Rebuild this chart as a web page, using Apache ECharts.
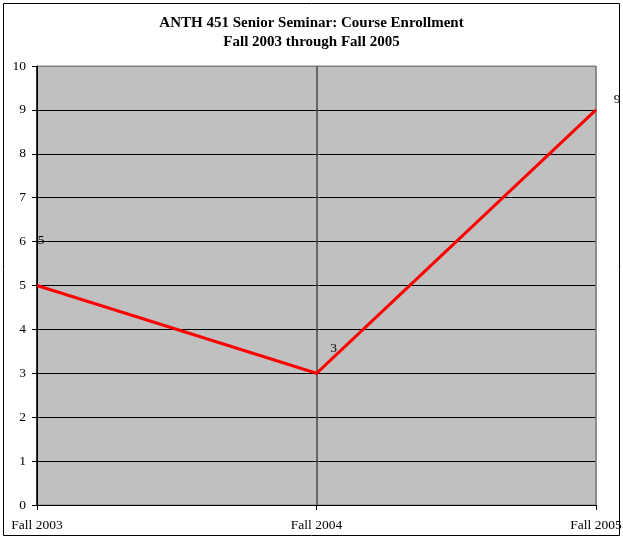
<!DOCTYPE html>
<html>
<head>
<meta charset="utf-8">
<script src="https://cdn.jsdelivr.net/npm/echarts@6/dist/echarts.min.js"></script>
<style>
  html, body { margin: 0; padding: 0; background: #ffffff; }
  #chart { width: 623px; height: 539px; }
</style>
</head>
<body>
<div id="chart"></div>
<script>
// Enrollment per fall term
const terms = ['Fall 2003', 'Fall 2004', 'Fall 2005'];
const enrollment = [5, 3, 9];
const yTicks = [0, 1, 2, 3, 4, 5, 6, 7, 8, 9, 10];

// Where each value label sits relative to its point (dx, dy in px)
const labelShift = [[4, -45], [17, -25], [21, -10]];

const serif = '"Liberation Serif", "Times New Roman", serif';

// Gridlines are black inside the plot; the outer frame edges are grey
const yGridColors = yTicks.map((t, i) => (i === yTicks.length - 1 ? '#808080' : '#000000'));
const xGridColors = terms.map((t, i) => (i === terms.length - 1 ? '#808080' : (i === 0 ? '#000000' : '#4a4a4a')));

const chart = echarts.init(document.getElementById('chart'), null, { renderer: 'canvas' });

chart.setOption({
  animation: false,
  backgroundColor: '#ffffff',
  title: {
    text: 'ANTH 451 Senior Seminar: Course Enrollment\nFall 2003 through Fall 2005',
    left: 'center',
    top: 9,
    textStyle: {
      fontFamily: serif,
      fontWeight: 'bold',
      fontSize: 15,
      lineHeight: 19,
      color: '#000000'
    }
  },
  graphic: [{
    type: 'rect',
    shape: { x: 3.5, y: 3.5, width: 616, height: 532 },
    style: { fill: 'none', stroke: '#000000', lineWidth: 1 },
    silent: true,
    z: 100
  }],
  grid: {
    left: 37,
    right: 27,
    top: 66,
    bottom: 34,
    outerBoundsMode: 'none',
    containLabel: false,
    show: true,
    backgroundColor: '#c0c0c0',
    borderColor: '#808080',
    borderWidth: 1
  },
  xAxis: {
    type: 'category',
    data: terms,
    boundaryGap: false,
    axisLine: { show: true, lineStyle: { color: '#000000', width: 1 } },
    axisTick: { show: true, inside: false, length: 5, alignWithLabel: true, lineStyle: { color: '#000000' } },
    axisLabel: {
      fontFamily: serif,
      fontSize: 13.5,
      color: '#000000',
      margin: 13,
      interval: 0,
      showMinLabel: true,
      showMaxLabel: true
    },
    splitLine: { show: true, lineStyle: { color: xGridColors, width: 1.5 } }
  },
  yAxis: {
    type: 'value',
    min: yTicks[0],
    max: yTicks[yTicks.length - 1],
    interval: 1,
    axisLine: { show: true, lineStyle: { color: '#000000', width: 1 } },
    axisTick: { show: true, inside: false, length: 5, lineStyle: { color: '#000000' } },
    axisLabel: {
      fontFamily: serif,
      fontSize: 13.5,
      color: '#000000',
      margin: 11
    },
    splitLine: { show: true, lineStyle: { color: yGridColors, width: 1 } }
  },
  series: [{
    type: 'line',
    data: enrollment.map((v, i) => ({
      value: v,
      label: {
        show: true,
        position: [1 + labelShift[i][0], 1 + labelShift[i][1]],
        align: 'center',
        verticalAlign: 'middle',
        fontFamily: serif,
        fontSize: 13.5,
        color: '#000000'
      }
    })),
    showSymbol: true,
    symbol: 'circle',
    symbolSize: 2,
    itemStyle: { color: 'rgba(0,0,0,0)', borderWidth: 0 },
    lineStyle: { color: '#ff0000', width: 3 },
    label: {
      show: true,
      fontFamily: serif,
      fontSize: 13.5,
      color: '#000000'
    },
    labelLayout: { hideOverlap: false },
    z: 5
  }]
});
</script>
</body>
</html>
